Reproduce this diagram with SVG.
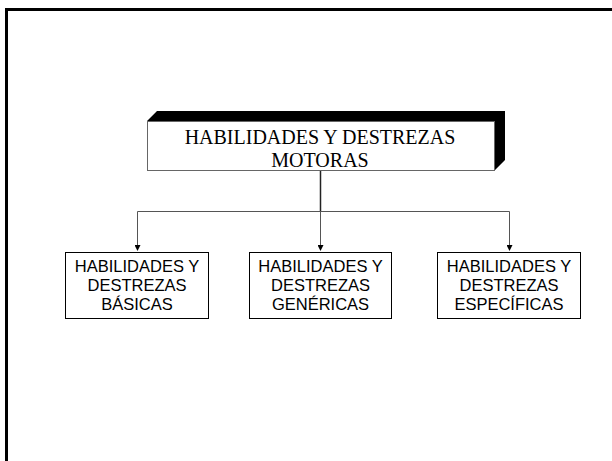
<svg xmlns="http://www.w3.org/2000/svg" width="612" height="461" viewBox="0 0 612 461">
<style>
.frame{fill:none;stroke:#000;stroke-width:3}
.box{fill:#fff;stroke:#000;stroke-width:1}
.main{font-family:"Liberation Serif","Times New Roman",serif;font-size:20px;fill:#000;text-anchor:middle}
.sub{font-family:"Liberation Sans",Arial,sans-serif;font-size:16.5px;fill:#000;text-anchor:middle}
.conn{fill:none;stroke:#555;stroke-width:1}
</style>
<defs>
<marker id="arr" markerWidth="6" markerHeight="6" refX="5" refY="3" orient="auto" markerUnits="userSpaceOnUse">
<path d="M0,0 L6,3 L0,6 z" fill="#000"/>
</marker>
</defs>
<rect x="0" y="0" width="612" height="461" fill="#fff"/>
<rect class="frame" x="6.5" y="9.5" width="620" height="470"/>
<g id="connectors">
<path d="M320.5,170 V211" stroke="#222" stroke-width="1.5" fill="none"/>
<path class="conn" d="M137.5,211.5 H509.5"/>
<path class="conn" d="M137.5,211.5 V250" marker-end="url(#arr)"/>
<path class="conn" d="M320.5,211.5 V250" marker-end="url(#arr)"/>
<path class="conn" d="M509.5,211.5 V250" marker-end="url(#arr)"/>
</g>
<g id="main">
<polygon points="147,121 157,111 505,111 505,160 494,171 494,121" fill="#000"/>
<rect x="147.5" y="121.5" width="347" height="49" fill="#fff" stroke="#666" stroke-width="1"/>
<text class="main" x="320" y="143.5">HABILIDADES Y DESTREZAS</text>
<text class="main" x="320" y="167">MOTORAS</text>
</g>
<g id="basicas">
<rect class="box" x="65.5" y="252.5" width="143" height="66"/>
<text class="sub" x="137" y="271.5">HABILIDADES Y</text>
<text class="sub" x="137" y="290.5">DESTREZAS</text>
<text class="sub" x="137" y="309.5">BÁSICAS</text>
</g>
<g id="genericas">
<rect class="box" x="249.5" y="252.5" width="142" height="66"/>
<text class="sub" x="320.5" y="271.5">HABILIDADES Y</text>
<text class="sub" x="320.5" y="290.5">DESTREZAS</text>
<text class="sub" x="320.5" y="309.5">GENÉRICAS</text>
</g>
<g id="especificas">
<rect class="box" x="437.5" y="252.5" width="143" height="66"/>
<text class="sub" x="509" y="271.5">HABILIDADES Y</text>
<text class="sub" x="509" y="290.5">DESTREZAS</text>
<text class="sub" x="509" y="309.5">ESPECÍFICAS</text>
</g>
</svg>
